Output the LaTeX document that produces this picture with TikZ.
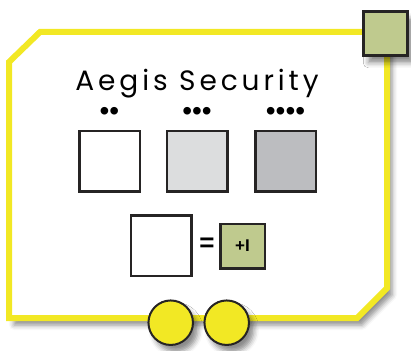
\documentclass[tikz,border=0pt]{standalone}
\usepackage{fontspec}
\setmainfont{Liberation Sans}
\newfontfamily\titlefont[LetterSpace=14]{Poppins}
\usetikzlibrary{positioning,shadows.blur}
\definecolor{aegisyellow}{RGB}{242,232,36}
\definecolor{aegisgreen}{RGB}{191,202,142}
\definecolor{aegisdark}{RGB}{38,36,36}
\definecolor{lightgrey}{RGB}{220,221,222}
\definecolor{midgrey}{RGB}{188,189,192}
\begin{document}
\begin{tikzpicture}[x=1pt,y=-1pt]
\tikzstyle{every node}=[inner sep=0pt]
\tikzstyle{tile}=[draw=aegisdark,line width=2.5pt,fill=white,minimum size=60.5pt]
\tikzstyle{token}=[draw=aegisdark,line width=2.5pt,fill=aegisgreen,minimum size=44.5pt,font=\bfseries\fontsize{17}{17}\selectfont]
\tikzstyle{coin}=[circle,draw=aegisdark,line width=2pt,fill=aegisyellow,minimum size=44.5pt]
\tikzstyle{pips}=[font=\fontsize{28}{28}\selectfont]
\tikzstyle{shade}=[blur shadow={shadow xshift=5pt,shadow yshift=-7pt,shadow blur radius=5pt,shadow opacity=45}]
\useasboundingbox (0,0) rectangle (411,350);
\draw[aegisyellow,line width=6pt,fill=white,shade] (40,32) -- (387,32) -- (387,288) -- (357,318) -- (9,318) -- (9,62) -- cycle;
\node[token,line width=3pt,shade] (corner) at (385.5,33.5) {};
\node[font=\titlefont\fontsize{28}{28}\selectfont] (title) at (197,84) {Aegis Security};
\node[tile] (plain) at (109.5,161) {};
\node[tile,fill=lightgrey] (light) at (197,161) {};
\node[tile,fill=midgrey] (dark) at (285.5,161) {};
\node[pips,above=9pt of plain] (two) {\textbullet\textbullet};
\node[pips,above=9pt of light] (three) {\textbullet\textbullet\textbullet};
\node[pips,above=9pt of dark] (four) {\textbullet\textbullet\textbullet\textbullet};
\node[tile] (single) at (161,245.5) {};
\node[font=\bfseries\fontsize{26}{26}\selectfont] (equals) at (207,245) {=};
\node[token] (bonus) at (242.5,246) {+I};
\node[coin,shade] (left) at (170.7,322.7) {};
\node[coin,shade] (right) at (226.7,322.7) {};
\end{tikzpicture}
\end{document}
